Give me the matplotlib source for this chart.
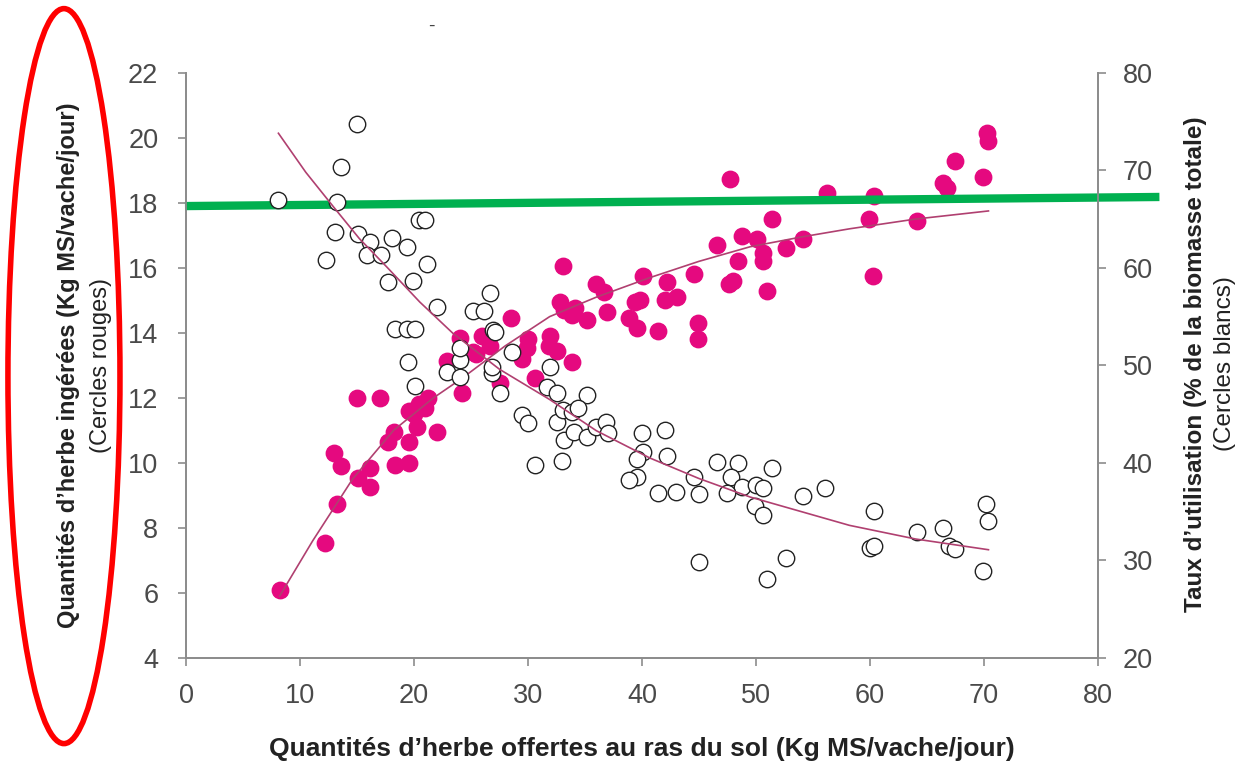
import matplotlib.pyplot as plt
from matplotlib.patches import Ellipse

# red filled dots: herbe ingérée (left axis)
ing_x = [8.2, 12.2, 13.2, 13.0, 13.6, 15.0, 17.0, 15.1, 16.1, 16.1, 18.2, 17.7, 18.3, 19.6,
         19.6, 20.3, 22.0, 19.6, 20.4, 21.0, 21.2, 20.0, 24.2, 22.9, 24.0, 26.0, 26.7, 25.4,
         25.2, 30.0, 29.9, 31.9, 31.8, 32.5, 29.5, 33.9, 30.6, 27.5, 28.5, 32.8, 33.2, 34.1,
         35.2, 33.9, 33.1, 36.0, 36.7, 36.9, 38.9, 39.6, 41.4, 39.8, 39.4, 43.1, 42.0, 40.1,
         42.2, 44.6, 44.9, 44.9, 46.6, 47.6, 48.0, 48.4, 51.0, 50.6, 50.6, 48.8, 50.1, 54.1,
         52.6, 51.4, 47.7, 56.2, 60.4, 59.9, 64.1, 60.3, 66.4, 66.8, 67.5, 69.9, 70.3, 70.4]
ing_y = [6.1, 7.55, 8.75, 10.3, 9.9, 12.0, 12.0, 9.55, 9.85, 9.27, 10.95, 10.65, 9.95, 10.0,
         10.65, 11.1, 10.95, 11.6, 11.8, 11.7, 12.0, 11.5, 12.15, 13.15, 13.85, 13.9, 13.6, 13.35,
         13.4, 13.8, 13.55, 13.9, 13.6, 13.45, 13.2, 13.1, 12.6, 12.45, 14.45, 14.95, 14.7, 14.75,
         14.4, 14.55, 16.05, 15.5, 15.25, 14.65, 14.45, 14.15, 14.05, 15.0, 14.95, 15.1, 15.0, 15.75,
         15.55, 15.8, 14.3, 13.8, 16.7, 15.5, 15.6, 16.2, 15.3, 16.45, 16.2, 16.98, 16.9, 16.9,
         16.6, 17.5, 18.74, 18.3, 18.2, 17.5, 17.45, 15.75, 18.6, 18.45, 19.3, 18.8, 20.15, 19.9]

# white open circles: taux d'utilisation (right axis)
uti_x = [15.0, 13.6, 8.1, 13.2, 13.1, 15.1, 16.1, 15.9, 17.1, 18.1, 19.4, 20.4, 21.0, 12.3,
         21.1, 17.7, 19.9, 22.0, 26.7, 25.2, 26.1, 18.3, 19.4, 20.1, 19.5, 20.1, 22.9, 24.0,
         24.0, 24.0, 26.9, 26.8, 27.1, 28.6, 26.8, 31.9, 31.7, 27.5, 32.5, 35.2, 29.5, 30.0,
         32.5, 33.1, 33.9, 34.4, 33.2, 34.0, 35.2, 36.0, 36.8, 37.0, 30.6, 33.0, 40.0, 42.0,
         40.1, 39.6, 42.2, 39.6, 38.9, 41.4, 43.0, 44.6, 45.0, 46.6, 48.4, 47.8, 48.8, 47.5,
         50.0, 50.6, 51.4, 49.9, 50.6, 54.1, 56.1, 45.0, 52.6, 51.0, 60.4, 60.0, 60.4, 64.1,
         66.4, 66.9, 67.5, 70.2, 70.4, 69.9]
uti_y = [74.7, 70.3, 67.0, 66.7, 63.7, 63.5, 62.6, 61.3, 61.3, 63.1, 62.1, 64.9, 64.9, 60.8,
         60.4, 58.5, 58.6, 56.0, 57.4, 55.6, 55.6, 53.7, 53.7, 53.7, 50.3, 47.9, 49.3, 48.8,
         50.6, 51.8, 53.6, 49.2, 53.4, 51.4, 49.8, 49.8, 47.8, 47.2, 47.2, 47.0, 44.9, 44.1,
         44.2, 45.4, 45.2, 45.6, 42.4, 43.2, 42.7, 43.7, 44.2, 43.1, 39.8, 40.2, 43.1, 43.4,
         41.1, 40.4, 40.7, 38.6, 38.2, 36.9, 37.0, 38.6, 36.8, 40.1, 40.0, 38.6, 37.5, 36.9,
         37.7, 37.4, 39.5, 35.6, 34.7, 36.6, 37.4, 29.8, 30.3, 28.1, 35.1, 31.3, 31.5, 32.9,
         33.3, 31.5, 31.2, 35.8, 34.0, 28.9]

# trend curves
ing_fit_x = [8.2, 11.1, 14.6, 18.2, 21.7, 24.2, 28.0, 31.9, 36.0, 40.7, 45.0, 49.5, 54.0, 58.2, 64.0, 70.4]
ing_fit_y = [5.9, 7.6, 9.5, 11.0, 12.0, 12.6, 13.6, 14.5, 15.1, 15.7, 16.2, 16.65, 16.95, 17.2, 17.5, 17.75]
uti_fit_x = [8.1, 10.5, 12.9, 15.2, 17.6, 20.5, 23.4, 27.5, 31.9, 36.0, 40.7, 45.0, 49.5, 54.0, 58.2, 64.0, 70.4]
uti_fit_y = [73.8, 69.8, 66.3, 63.0, 60.1, 56.5, 53.3, 49.6, 46.5, 43.3, 40.5, 38.4, 36.5, 35.0, 33.6, 32.2, 31.1]

plt.rcParams['font.family'] = ['Liberation Sans', 'DejaVu Sans']

fig = plt.figure(figsize=(12.49, 7.66), dpi=100)
ax = fig.add_axes([0.149, 0.141, 0.73, 0.764])
ax2 = ax.twinx()

grey = '#8c8c8c'
for a in (ax, ax2):
    a.spines['top'].set_visible(False)
    for s in ('left', 'right', 'bottom'):
        a.spines[s].set_color(grey)
        a.spines[s].set_linewidth(1.3)
    a.tick_params(direction='out', length=6, width=1.2, color=grey,
                  labelsize=19.5, labelcolor='#4a4a4a')
ax.tick_params(axis='x', pad=12)
ax.tick_params(axis='y', pad=14)
ax2.tick_params(axis='y', pad=12)

ax.scatter(ing_x, ing_y, s=140, color='#e5097f', edgecolors='#e5097f', zorder=3)
ax.plot(ing_fit_x, ing_fit_y, color='#b04070', lw=1.2, zorder=4)

ax2.scatter(uti_x, uti_y, s=140, facecolors='white', edgecolors='#222222', linewidths=1.0, zorder=3)
ax2.plot(uti_fit_x, uti_fit_y, color='#b04070', lw=1.2, zorder=4)

ax.set_xlim(0, 80)
ax.set_ylim(4, 22)
ax.set_xticks(range(0, 81, 10))
ax.set_yticks(range(4, 23, 2))
ax2.set_ylim(20, 80)
ax2.set_yticks(range(20, 81, 10))

ax.set_xlabel('Quantités d’herbe offertes au ras du sol (Kg MS/vache/jour)',
              fontsize=19, fontweight='bold', color='#222222', labelpad=20)

fig.text(0.055, 0.523, 'Quantités d’herbe ingérées (Kg MS/vache/jour)', rotation=90,
         fontsize=17, fontweight='bold', color='#222222', ha='center', va='center')
fig.text(0.081, 0.523, '(Cercles rouges)', rotation=90,
         fontsize=17, color='#222222', ha='center', va='center')
fig.text(0.957, 0.525, 'Taux d’utilisation (% de la biomasse totale)', rotation=90,
         fontsize=17.5, fontweight='bold', color='#222222', ha='center', va='center')
fig.text(0.981, 0.525, '(Cercles blancs)', rotation=90,
         fontsize=17.5, color='#222222', ha='center', va='center')

# green highlight line
ax.plot([-0.1, 85.4], [17.9, 18.18], color='#00b050', lw=6, clip_on=False, zorder=6,
        solid_capstyle='butt')

# red ellipse around the left label
fig.patches.append(Ellipse((0.0512, 0.509), 0.0897, 0.9595, transform=fig.transFigure,
                           fill=False, edgecolor='#ff0000', linewidth=4))

fig.text(0.345, 0.965, '-', fontsize=14, color='#444444', ha='center', va='center')

fig.savefig('out.png', dpi=100)
